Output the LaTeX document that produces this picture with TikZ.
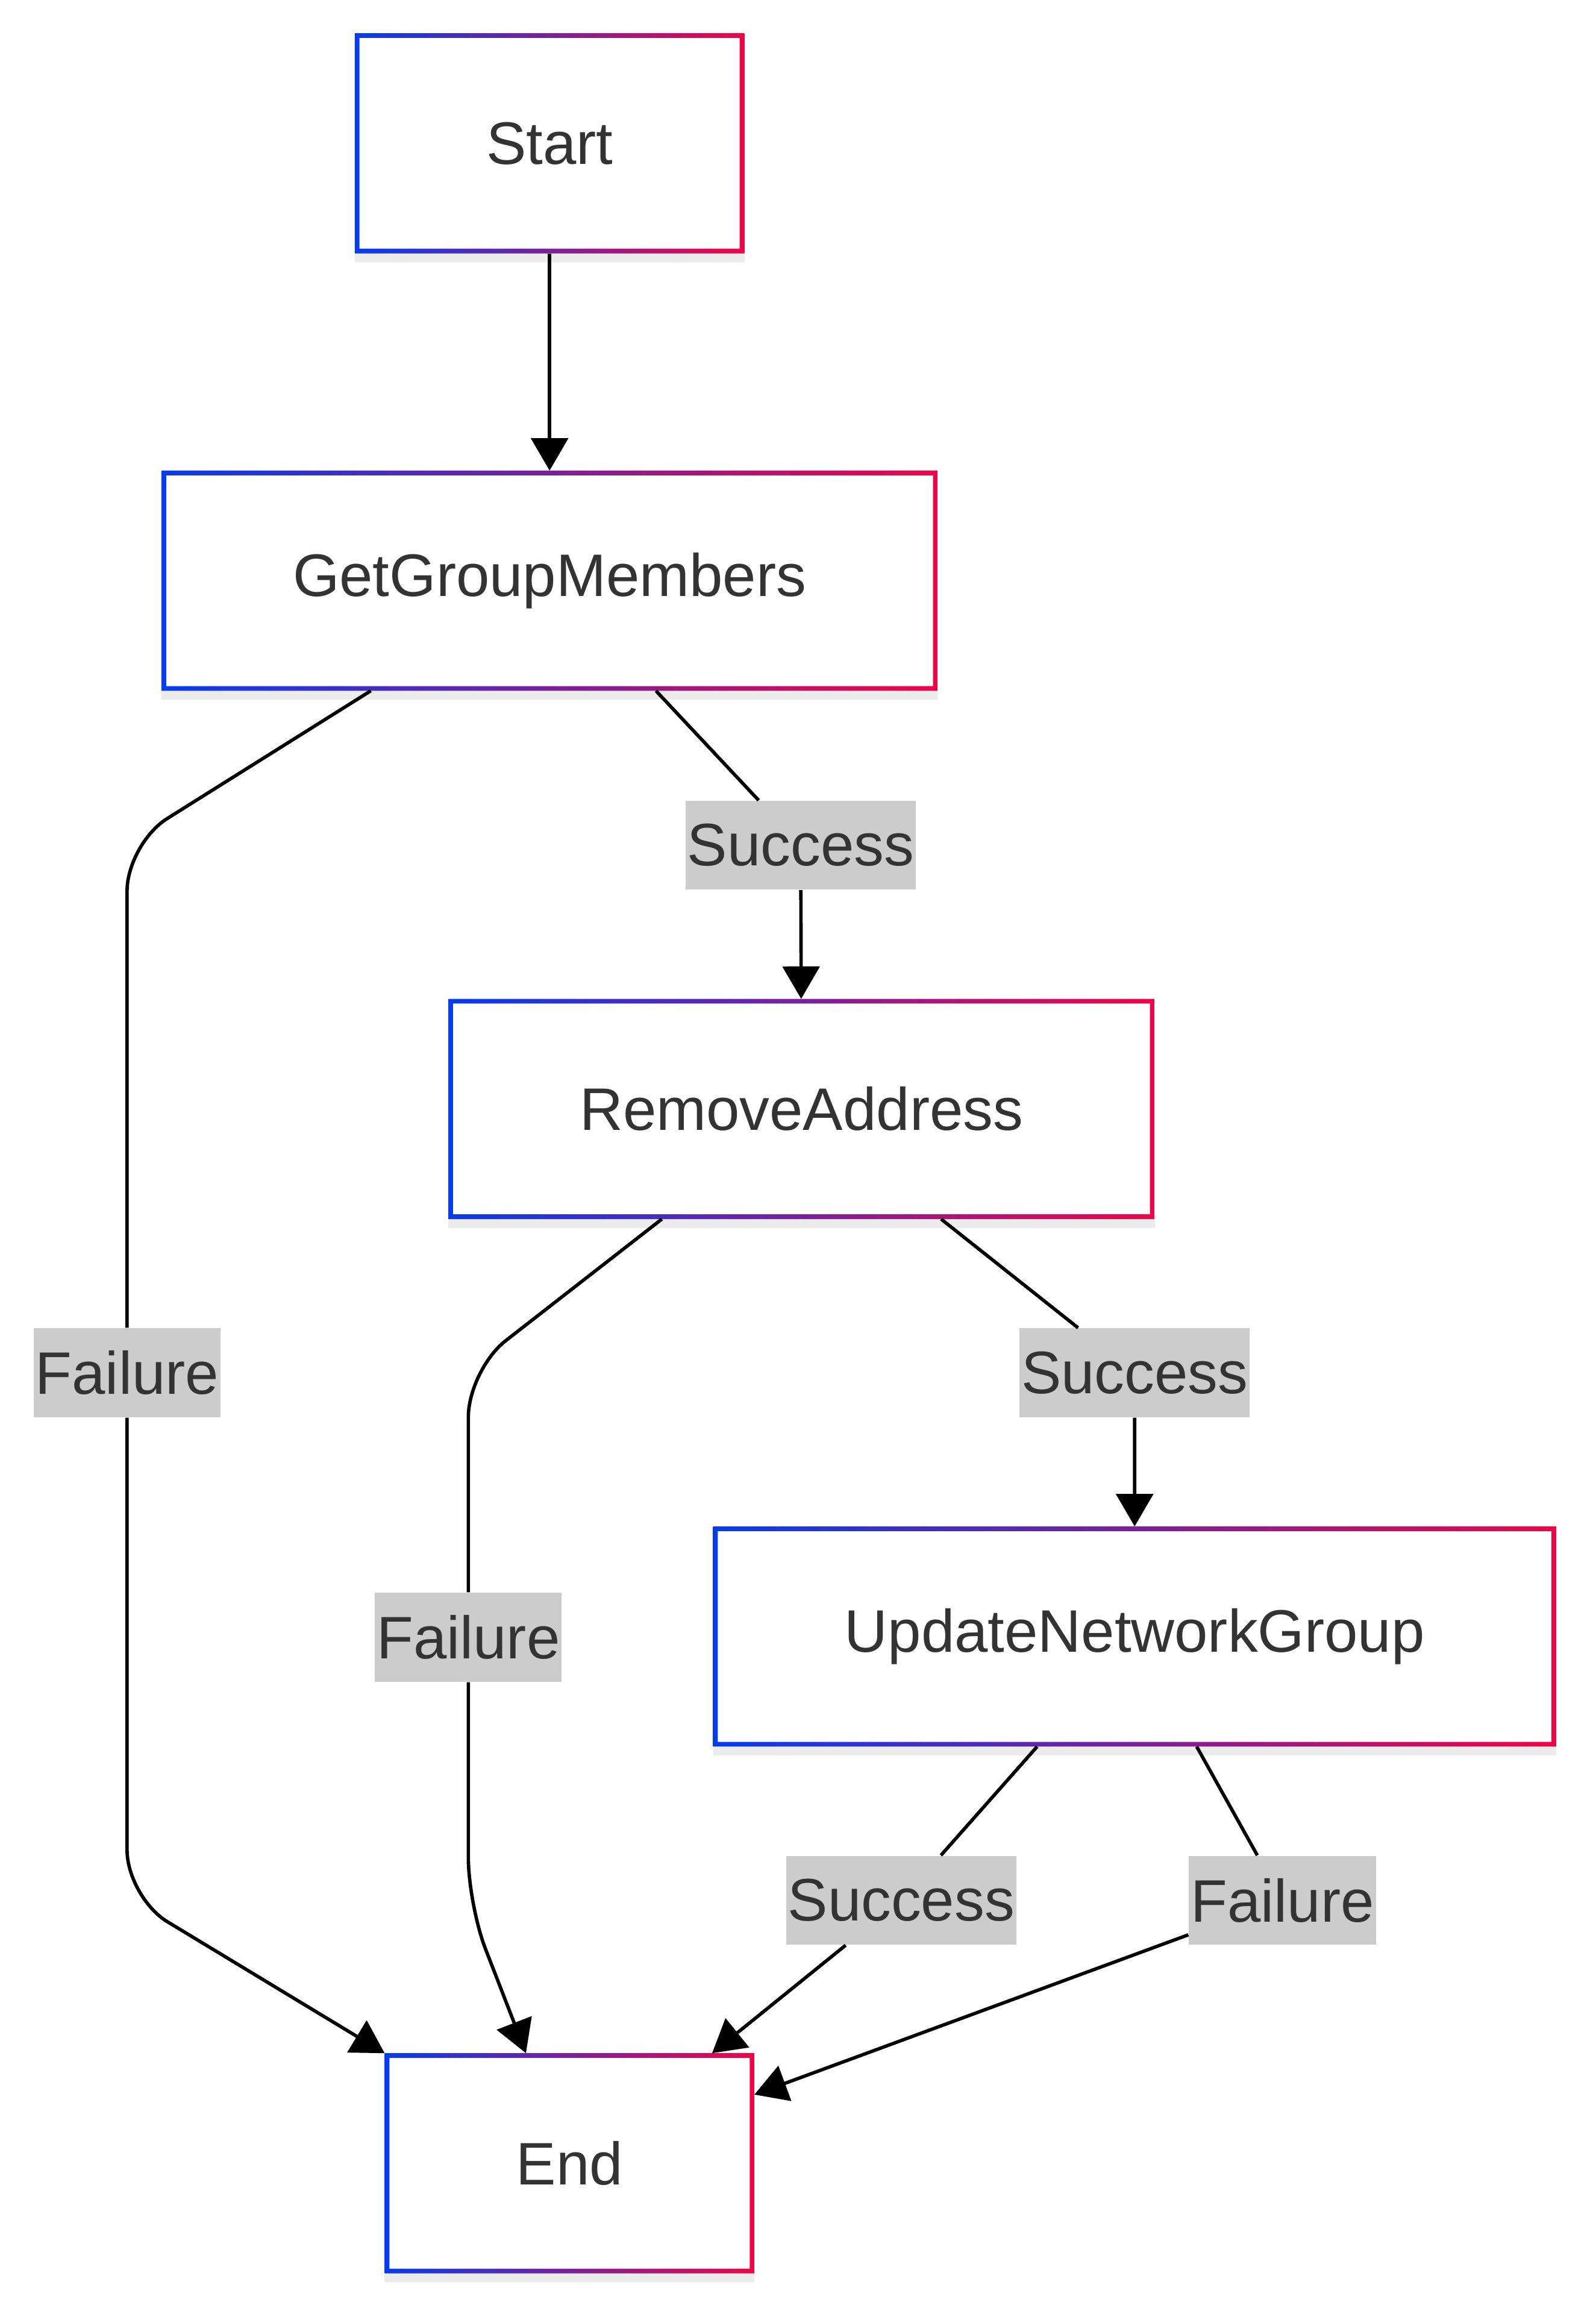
\documentclass[tikz,border=0pt]{standalone}
\usepackage{fontspec}
\setmainfont{Liberation Sans}
\usetikzlibrary{arrows.meta,shadows}
\definecolor{boxblue}{RGB}{5,60,240}
\definecolor{boxred}{RGB}{240,5,70}
\definecolor{labelgray}{RGB}{204,204,204}
\definecolor{txtgray}{RGB}{51,51,51}
\begin{document}
\begin{tikzpicture}[
    x=0.5pt, y=-0.5pt,
    font=\fontsize{20.3}{24}\selectfont, text=txtgray,
    stepbox/.style={rectangle, minimum height=74.5pt, inner xsep=44.5pt, outer sep=0pt, fill=white,
        drop shadow={opacity=0.15, shadow xshift=0pt, shadow yshift=-3pt},
        path picture={\shade[left color=boxblue, right color=boxred, even odd rule]
            (path picture bounding box.south west) rectangle (path picture bounding box.north east)
            ([shift={(1.6pt,1.6pt)}]path picture bounding box.south west) rectangle ([shift={(-1.6pt,-1.6pt)}]path picture bounding box.north east);}},
    tag/.style={fill=labelgray, minimum height=30pt, inner xsep=0.6pt, inner ysep=0pt},
    flow/.style={line width=1.15pt, -{Triangle[length=11pt,width=12.5pt]}, rounded corners=16pt},
]
\useasboundingbox (0,0) rectangle (1080,1566);
\node[stepbox] (start) at (372,97)     {Start};
\node[stepbox] (ggm)   at (372,393)    {GetGroupMembers};
\node[stepbox] (ra)    at (542.5,750.5) {RemoveAddress};
\node[stepbox] (ung)   at (768,1107.5) {UpdateNetworkGroup};
\node[stepbox] (end)   at (385.5,1464) {End};
\node[tag] (gs) at (542,572)  {Success};
\node[tag] (gf) at (86,929)   {Failure};
\node[tag] (rs) at (768,929)  {Success};
\node[tag] (rf) at (317,1108) {Failure};
\node[tag] (us) at (610,1286) {Success};
\node[tag] (uf) at (868,1286) {Failure};
\draw[flow] (start) -- (ggm);
\draw[flow] ([xshift=36pt]ggm.south) -- (gs) -- (ra);
\draw[flow] ([xshift=-60.5pt]ggm.south) -- (86,571) -- (gf) -- (86,1284) -- (end.north west);
\draw[flow] ([xshift=47.25pt]ra.south) -- (rs) -- (ung);
\draw[flow] ([xshift=-47.25pt]ra.south) -- (317,927) -- (rf) -- (317,1289) -- ([xshift=-14.75pt]end.north);
\draw[flow] ([xshift=-33pt]ung.south) -- (us) -- ([xshift=48.25pt]end.north);
\draw[flow] ([xshift=21pt]ung.south) -- (uf) -- ([yshift=-14pt]end.north east);
\end{tikzpicture}
\end{document}
